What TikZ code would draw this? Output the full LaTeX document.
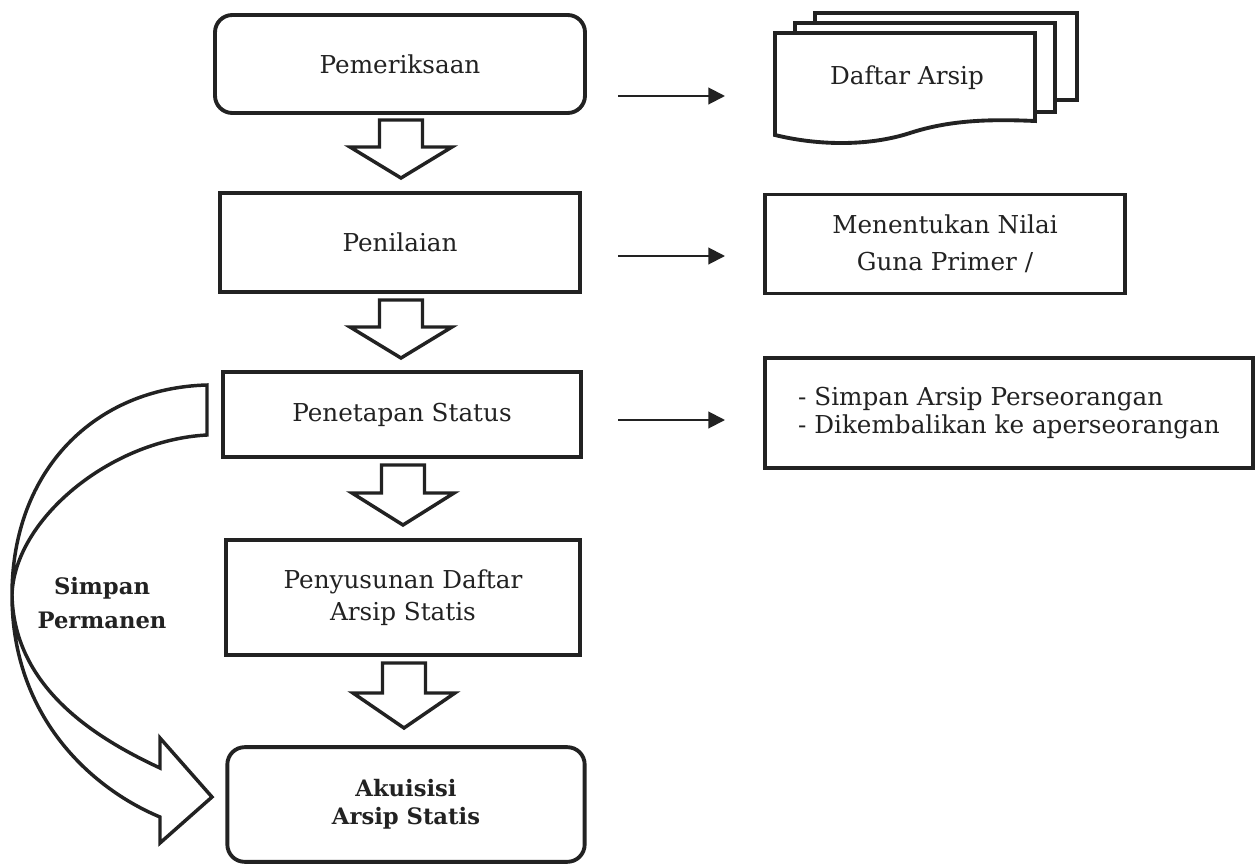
\documentclass[tikz,border=0pt]{standalone}
\usepackage{fontspec}
\setmainfont{DejaVu Serif}
\usetikzlibrary{arrows.meta,calc}
\definecolor{ink}{RGB}{34,34,34}
\newcommand\blockarr[4]{\draw[barrow] (#1-21.5,#2) -- (#1+21.5,#2) -- (#1+21.5,#3) -- (#1+51,#3) -- (#1,#4) -- (#1-51,#3) -- (#1-21.5,#3) -- cycle;}
\begin{document}
\begin{tikzpicture}[x=0.75pt,y=-0.75pt,
  every node/.style={text=ink},
  box/.style={draw=ink, line width=2.9pt, fill=white, inner sep=0pt, font=\fontsize{18.5}{27}\selectfont, align=center},
  rbox/.style={box, rounded corners=13pt},
  docline/.style={draw=ink, line width=2.9pt, fill=white, line join=miter},
  barrow/.style={draw=ink, line width=2.6pt, line join=miter, fill=white},
  thinarrow/.style={draw=ink, line width=1.5pt, -{Triangle[length=12.5pt,width=12.5pt]}},
  boldlabel/.style={font=\fontsize{17}{26}\selectfont\bfseries, align=center}
]
\useasboundingbox (0,0) rectangle (1258,864);
\fill[white] (0,0) rectangle (1258,864);

% main column
\node[rbox, minimum width=277.5pt, minimum height=73.5pt] (pem) at (400,64) {Pemeriksaan};
\node[box, minimum width=270pt, minimum height=74.25pt] (pen) at (400,242.5) {Penilaian};
\node[box, minimum width=268pt, minimum height=64pt] (pst) at (402,414.5) {Penetapan Status};
\node[box, minimum width=266pt, minimum height=86pt, font=\fontsize{18.5}{24}\selectfont] (pds) at (403,597.5) {Penyusunan Daftar\\Arsip Statis};
\node[rbox, minimum width=268pt, minimum height=86pt, font=\fontsize{17}{21}\selectfont\bfseries] (aku) at (406,804.5) {Akuisisi\\Arsip Statis};

% block arrows
\blockarr{401}{120}{147}{178}
\blockarr{401}{300}{327}{358}
\blockarr{403}{465}{493}{525}
\blockarr{404}{663}{693}{728}

% curved arrow
\draw[barrow] (207,385) .. controls (95,388) and (12,470) .. (12,595)
  .. controls (12,720) and (95,790) .. (160,817) -- (160,843) -- (212,797) -- (160,738) -- (160,768)
  .. controls (100,740) and (14,690) .. (12,595)
  .. controls (14,520) and (110,440) .. (207,435) -- cycle;
\node[boldlabel] (simp) at (102,603) {Simpan\\Permanen};

% multi-document
\draw[docline] (815,13) rectangle (1077,100);
\draw[docline] (795,23) rectangle (1055,112);
\draw[docline] (775,33) -- (1035,33) -- (1035,121) .. controls (990,119) and (950,120) .. (910,133) .. controls (870,146) and (820,146) .. (775,135) -- cycle;
\node[font=\fontsize{18.5}{27}\selectfont] (daf) at (907,78) {Daftar Arsip};

% right boxes
\node[box, minimum width=270pt, minimum height=74.25pt, font=\fontsize{18.5}{27.75}\selectfont] (mnt) at (945,244) {Menentukan Nilai\\Guna Primer /};
\node[box, minimum width=366pt, minimum height=82.5pt, align=left, font=\fontsize{18.5}{21}\selectfont] (res) at (1009,413) {- Simpan Arsip Perseorangan\\- Dikembalikan ke aperseorangan};

% thin arrows
\coordinate (a1s) at (618,96); \coordinate (a1e) at (725,96);
\coordinate (a2s) at (618,256); \coordinate (a2e) at (725,256);
\coordinate (a3s) at (618,420); \coordinate (a3e) at (725,420);
\draw[thinarrow] (a1s) -- (a1e);
\draw[thinarrow] (a2s) -- (a2e);
\draw[thinarrow] (a3s) -- (a3e);
\end{tikzpicture}
\end{document}
